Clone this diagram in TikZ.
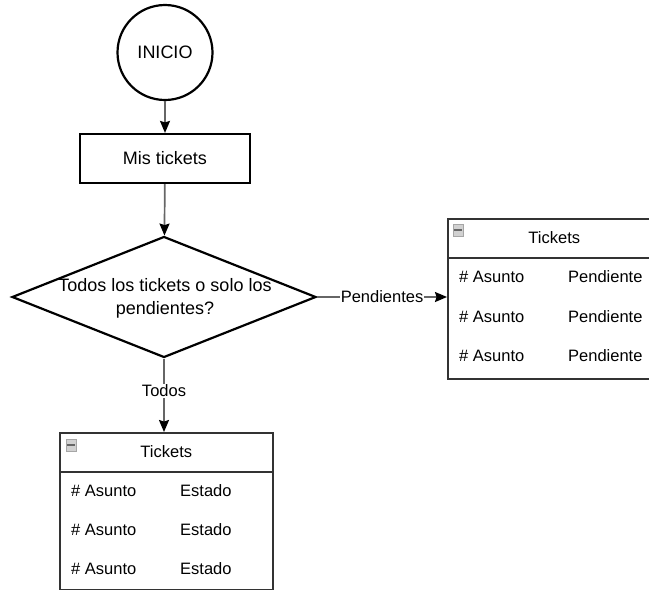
\documentclass[tikz,border=0pt]{standalone}
\usepackage{fontspec}
\setmainfont{Liberation Sans}
\usetikzlibrary{shapes.geometric,arrows.meta}
\newcommand\fsmain{\fontsize{18}{23}\selectfont}
\newcommand\fssmall{\fontsize{16.5}{20}\selectfont}
\begin{document}
\begin{tikzpicture}[x=1pt,y=-1pt,
  shapeline/.style={draw=black,line width=2.2pt,inner sep=0pt,font=\fsmain},
  conn/.style={draw=black!60,line width=1.7pt,
    -{Stealth[black,inset=1.5pt,length=12pt,width=10pt]}},
  lbl/.style={fill=white,inner sep=1pt,font=\fssmall,text=black},
  tablebox/.style={draw=black!80,line width=1.6pt,inner sep=0pt,
    minimum width=213pt,anchor=north west},
  tabline/.style={draw=black!80,line width=1.6pt},
  tabtitle/.style={font=\fssmall,inner sep=0pt},
  rowtxt/.style={font=\fssmall,inner sep=0pt,anchor=west},
  minicon/.style={draw=black!35,fill=black!18,line width=0.8pt,
    minimum width=10pt,minimum height=12pt,inner sep=0pt,
    path picture={\fill[black!60]
      ([xshift=1.2pt,yshift=-1.2pt]path picture bounding box.west) rectangle
      ([xshift=-1.2pt,yshift=1.2pt]path picture bounding box.east);}}
]
\useasboundingbox (0,0) rectangle (649,590);
\clip (0,0) rectangle (649,590);

% flow shapes
\node[circle,shapeline,minimum size=95pt] (inicio) at (165,52.5) {INICIO};
\node[rectangle,shapeline,minimum width=170pt,minimum height=49pt] (mis) at (165,158.5) {Mis tickets};
\node[diamond,shapeline,minimum width=304pt,minimum height=121pt] (dec) at (164,297) {};
\node[align=center,font=\fsmain,inner sep=0pt] (dectext) at (165,298) {Todos los tickets o solo los\\pendientes?};

% table of pending tickets
\node[tablebox,minimum height=160pt] (tabA) at (447,218) {};
\draw[tabline] ([yshift=-40pt]tabA.north west) -- ([yshift=-40pt]tabA.north east);
\node[minicon] (tabAicon) at ([xshift=11pt,yshift=-12pt]tabA.north west) {};
\node[tabtitle] (tabAtitle) at ([yshift=-20pt]tabA.north) {Tickets};
\node[rowtxt] (tabA1a) at ([xshift=12pt,yshift=-59pt]tabA.north west) {\# Asunto};
\node[rowtxt] (tabA1b) at ([xshift=121pt,yshift=-59pt]tabA.north west) {Pendiente};
\node[rowtxt] (tabA2a) at ([xshift=12pt,yshift=-99pt]tabA.north west) {\# Asunto};
\node[rowtxt] (tabA2b) at ([xshift=121pt,yshift=-99pt]tabA.north west) {Pendiente};
\node[rowtxt] (tabA3a) at ([xshift=12pt,yshift=-138pt]tabA.north west) {\# Asunto};
\node[rowtxt] (tabA3b) at ([xshift=121pt,yshift=-138pt]tabA.north west) {Pendiente};

% table of all tickets
\node[tablebox,minimum height=157pt] (tabB) at (59,432) {};
\draw[tabline] ([yshift=-40pt]tabB.north west) -- ([yshift=-40pt]tabB.north east);
\node[minicon] (tabBicon) at ([xshift=12pt,yshift=-13pt]tabB.north west) {};
\node[tabtitle] (tabBtitle) at ([yshift=-20pt]tabB.north) {Tickets};
\node[rowtxt] (tabB1a) at ([xshift=12pt,yshift=-59pt]tabB.north west) {\# Asunto};
\node[rowtxt] (tabB1b) at ([xshift=121pt,yshift=-59pt]tabB.north west) {Estado};
\node[rowtxt] (tabB2a) at ([xshift=12pt,yshift=-98pt]tabB.north west) {\# Asunto};
\node[rowtxt] (tabB2b) at ([xshift=121pt,yshift=-98pt]tabB.north west) {Estado};
\node[rowtxt] (tabB3a) at ([xshift=12pt,yshift=-137pt]tabB.north west) {\# Asunto};
\node[rowtxt] (tabB3b) at ([xshift=121pt,yshift=-137pt]tabB.north west) {Estado};

% connectors
\draw[conn] (inicio) -- (mis);
\draw[conn] (mis) -- (dec);
\draw[conn] (dec.east) -- node[lbl] (lblP) {Pendientes} (dec.east -| tabA.west);
\draw[conn] (dec.south) -- node[lbl,pos=0.44] (lblT) {Todos} (tabB.north -| dec.south);
\end{tikzpicture}
\end{document}
